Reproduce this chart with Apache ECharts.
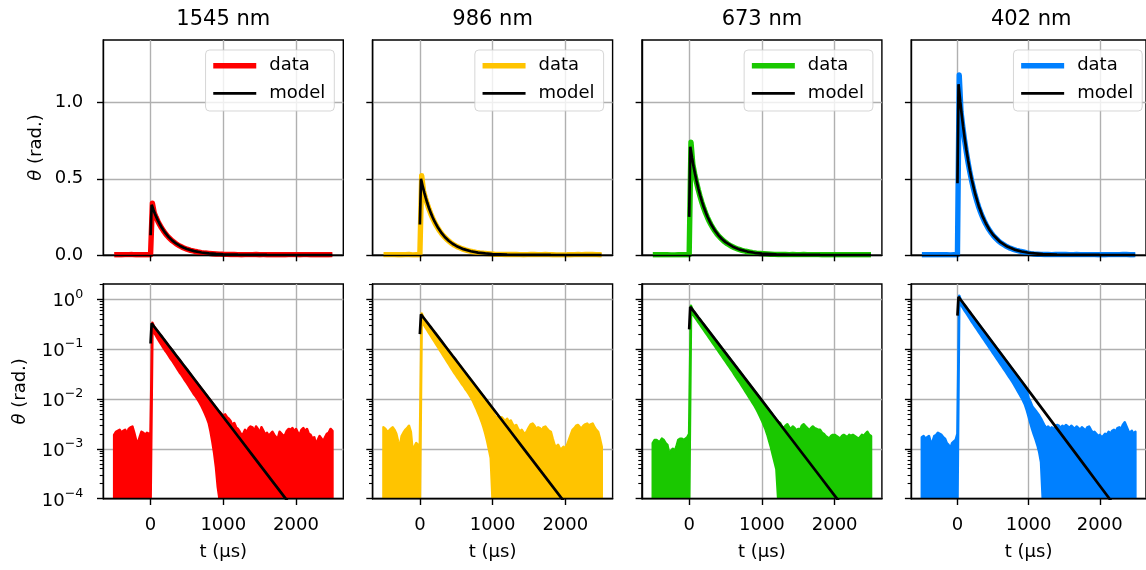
<!DOCTYPE html>
<html><head><meta charset="utf-8">
<script src="https://cdn.jsdelivr.net/npm/echarts@6/dist/echarts.min.js"></script>
<style>html,body{margin:0;padding:0;background:#fff}#c{width:1146px;height:570px}</style>
</head><body><div id="c"></div>
<script>
// ---------- data ----------
const titles = ['1545 nm', '986 nm', '673 nm', '402 nm'];
const colors = ['#ff0000', '#ffc400', '#1ac800', '#0080ff'];
const xTicks = [0, 1000, 2000];
const linTicks = [0, 0.5, 1.0];
const logTicks = [1e-4, 1e-3, 1e-2, 1e-1, 1];
const logMinorTicks = [2e-4,3e-4,4e-4,5e-4,6e-4,7e-4,8e-4,9e-4,2e-3,3e-3,4e-3,5e-3,6e-3,7e-3,8e-3,9e-3,
  2e-2,3e-2,4e-2,5e-2,6e-2,7e-2,8e-2,9e-2,0.2,0.3,0.4,0.5,0.6,0.7,0.8,0.9,2];

// measurement times (µs)
const t = [-500,-475,-450,-425,-400,-375,-350,-325,-300,-275,-250,-225,-200,-175,-150,-125,-100,-75,-50,-25,0,
  25,50,75,100,125,150,175,200,225,250,275,300,325,350,375,400,425,450,475,500,
  525,550,575,600,625,650,675,700,725,750,775,800,825,850,875,900,925,950,975,1000,
  1025,1050,1075,1100,1125,1150,1175,1200,1225,1250,1275,1300,1325,1350,1375,1400,1425,1450,1475,1500,
  1525,1550,1575,1600,1625,1650,1675,1700,1725,1750,1775,1800,1825,1850,1875,1900,1925,1950,1975,2000,
  2025,2050,2075,2100,2125,2150,2175,2200,2225,2250,2275,2300,2325,2350,2375,2400,2425,2450,2475,2500];

// upper edge of the measured signal (rad.)
const hi1545 = [0.0019,0.0022,0.0023,0.0024,0.0021,0.0023,0.0024,0.0020,0.0025,0.0027,0.0028,0.0021,0.0015,0.0013,0.0017,0.0022,0.0021,0.0019,0.0021,0.0020,0.0021,
  0.34,0.2765,0.2477,0.2220,0.1989,0.1782,0.1597,0.1430,0.1282,0.1148,0.1029,0.0922,0.0826,0.0740,0.0663,0.0594,0.0532,0.0477,0.0427,0.0383,
  0.0343,0.0307,0.0275,0.0247,0.0221,0.0198,0.0177,0.0159,0.01424,0.01276,0.01143,0.01024,0.00918,0.00822,0.00737,0.0066,0.00591,
  0.0055,0.0050,0.0046,0.0049,0.0043,0.0040,0.0036,0.0029,0.0033,0.0027,
  0.0025,0.0022,0.0019,0.0020,0.0024,0.0021,0.0026,0.0028,0.0027,0.0022,
  0.0028,0.0025,0.0020,0.0027,0.0023,0.0019,0.0021,0.0018,0.0020,0.0022,
  0.0019,0.0017,0.0016,0.0022,0.0020,0.0018,0.0019,0.0023,0.0025,0.0024,
  0.0026,0.0022,0.0025,0.0021,0.0019,0.0024,0.0026,0.0022,0.0025,0.0020,
  0.0019,0.0016,0.0017,0.0012,0.0015,0.0018,0.0016,0.0014,0.0017,0.0020,
  0.0021,0.0025,0.0023];
const hi986 = [0.0027,0.0025,0.0022,0.0023,0.0025,0.0027,0.0024,0.0020,0.0014,0.0011,0.0018,0.0021,0.0024,0.0026,0.0029,0.0022,0.0009,0.0011,0.0013,0.0012,0.0011,
  0.52,0.4190,0.3754,0.3363,0.3013,0.2700,0.2419,0.2168,0.1942,0.1740,
  0.1559,0.1397,0.1252,0.1121,0.1005,0.0900,0.0807,0.0722,0.0647,0.0580,
  0.0520,0.0466,0.0417,0.0374,0.0335,0.0300,0.0269,0.0241,0.0216,0.0193,
  0.0173,0.0155,0.0139,0.01246,0.01116,0.0100,0.00896,0.00803,0.00719,
  0.0058,0.0048,0.0041,0.0044,0.0040,0.0043,0.0039,0.0036,0.0040,0.0034,
  0.0037,0.0031,0.0028,0.0030,0.0025,0.0022,0.0024,0.0021,0.0020,0.0023,
  0.0027,0.0031,0.0032,0.0029,0.0025,0.0027,0.0026,0.0023,0.0027,0.0028,
  0.0025,0.0023,0.0022,0.0016,0.0012,0.0011,0.0012,0.0010,0.0010,0.0011,
  0.0010,0.0012,0.0015,0.0019,0.0024,0.0026,0.0029,0.0030,0.0027,0.0026,
  0.0029,0.0031,0.0032,0.0029,0.0031,0.0032,0.0027,0.0024,0.0022,0.0016,
  0.0011];
const hi673 = [0.0013,0.0015,0.0015,0.0014,0.0014,0.0016,0.0015,0.0013,0.0012,0.0008,0.0009,0.0010,0.0009,0.0011,0.0015,0.0016,0.0016,0.0015,0.0016,0.0017,0.0020,
  0.74,0.5949,0.5329,0.4776,0.4279,0.3835,0.3436,0.3078,0.2758,0.2471,
  0.2214,0.1984,0.1778,0.1592,0.1427,0.1278,0.1145,0.1026,0.0919,0.0823,
  0.0738,0.0661,0.0592,0.0531,0.0476,0.0426,0.0382,0.0342,0.0306,0.0274,
  0.0246,0.0220,0.0197,0.0177,0.0159,0.0142,0.0127,0.0114,0.0102,0.00915,
  0.0082,0.00735,0.00658,0.0059,0.00528,0.00474,0.00424,0.0038,
  0.0035,0.0033,0.0028,0.0026,0.0029,0.0031,0.0027,0.0025,0.0028,0.0026,
  0.0023,0.0025,0.0024,0.0029,0.0031,0.0028,0.0026,0.0023,0.0026,0.0028,
  0.0026,0.0025,0.0024,0.0024,0.0021,0.0020,0.0018,0.0017,0.0016,0.0018,
  0.0019,0.0019,0.0018,0.0017,0.0016,0.0018,0.0019,0.0018,0.0017,0.0019,
  0.0018,0.0019,0.0018,0.0017,0.0016,0.0017,0.0019,0.0018,0.0020,0.0022,
  0.0019,0.0018];
const hi402 = [0.0017,0.0018,0.0016,0.0017,0.0018,0.0013,0.0014,0.0018,0.0019,0.0021,0.0020,0.0019,0.0017,0.0016,0.0013,0.0012,0.0010,0.0013,0.0014,0.0015,0.0020,
  1.18,0.9384,0.8408,0.7534,0.6750,0.6048,0.5419,0.4854,0.4349,0.3897,
  0.3491,0.3128,0.2803,0.2511,0.2250,0.2016,0.1806,0.1618,0.1449,0.1299,
  0.1164,0.1043,0.0934,0.0837,0.0750,0.0672,0.0602,0.0539,0.0483,0.0433,
  0.0388,0.0348,0.0311,0.0279,0.0250,0.0224,0.0201,0.0180,0.0140,0.0105,
  0.0088,0.0072,0.0064,0.0058,0.0052,0.0046,0.0040,0.0034,
  0.0029,0.0026,0.0028,0.0025,0.0027,0.0024,0.0028,0.0030,0.0029,0.0026,
  0.0029,0.0027,0.0030,0.0028,0.0026,0.0029,0.0027,0.0025,0.0028,0.0026,
  0.0024,0.0027,0.0025,0.0023,0.0027,0.0028,0.0024,0.0021,0.0022,0.0020,
  0.0018,0.0019,0.0017,0.0018,0.0020,0.0019,0.0022,0.0020,0.0023,0.0024,
  0.0022,0.0026,0.0027,0.0025,0.0030,0.0034,0.0028,0.0023,0.0021,0.0023,
  0.0020,0.0022];

// lower edge of the measured signal, from t = 25 µs on; after the list ends it lies below the axis
const loStartT = 25;
const lo1545 = [0.251,0.2148,0.1879,0.1608,0.1408,0.1233,0.1080,0.0945,0.0847,0.0741,
  0.0649,0.0581,0.0509,0.0446,0.0390,0.0342,0.0306,0.0268,0.0235,0.0210,
  0.0184,0.0161,0.0141,0.01236,0.01108,0.0097,0.00849,0.00726,0.00607,0.00508,
  0.00415,0.00331,0.00225,0.0014,0.000827,0.000426,0.000171,0.0000537];
const lo986 = [0.380,0.3252,0.2782,0.2436,0.2134,0.1868,0.1636,0.1432,0.1254,0.1098,
  0.0961,0.0842,0.0737,0.0645,0.0565,0.0495,0.0433,0.0379,0.0332,0.0297,
  0.0260,0.0233,0.0204,0.0183,0.0160,0.01436,0.01258,0.0110,0.00942,0.00787,
  0.00658,0.00538,0.0044,0.00351,0.00274,0.00204,0.00145,0.000988,0.000656];
const lo673 = [0.578,0.5064,0.4485,0.3973,0.3519,0.3117,0.2761,0.2444,0.2165,0.1918,
  0.1699,0.1505,0.1333,0.1180,0.1045,0.0926,0.0820,0.0726,0.0643,0.0570,
  0.0505,0.0447,0.0396,0.0351,0.0307,0.0269,0.0238,0.0211,0.0185,0.0162,
  0.01416,0.01239,0.01085,0.0095,0.00832,0.00729,0.00623,0.00533,0.00446,0.00373,
  0.00305,0.00249,0.00194,0.00145,0.00108,0.000768,0.000547,0.000389];
const lo402 = [0.8915,0.7806,0.6834,0.5984,0.530,0.4694,0.4111,0.3598,0.3187,0.2823,
  0.250,0.2214,0.1962,0.1738,0.1539,0.1363,0.1207,0.1069,0.0947,0.0839,
  0.0743,0.0658,0.0583,0.0516,0.0457,0.0405,0.0359,0.0318,0.0281,0.0249,
  0.0218,0.0191,0.01653,0.01431,0.01239,0.01072,0.00918,0.00767,0.00599,0.00446,
  0.00333,0.00248,0.00193,0.00154,0.00118,0.000858,0.000544];

// model curve
const modelT = [0,15,40,60,80,100,125,150,175,200,250,300,350,400,450,500,600,700,800,900,1000,1200,1400,1600,1800,2000,2200,2400,2500];
const model1545 = [0.13,0.330,0.2957,0.2708,0.2480,0.2272,0.2035,0.1824,0.1634,0.1463,0.1174,0.0943,0.0757,0.0608,0.0488,0.0392,0.02524,0.01627,0.01048,0.006755,0.004353,0.001807,0.0007504,0.0003117,0.0001294,0.0000537,0.0000223,0.00000927,0.00000597];
const model986 = [0.20,0.500,0.448,0.4103,0.3758,0.3442,0.3083,0.2763,0.2476,0.2217,0.1780,0.1429,0.1147,0.0921,0.0739,0.0594,0.03825,0.02465,0.01588,0.01024,0.006595,0.002739,0.001137,0.0004723,0.0001961,0.0000814,0.0000338,0.000014,0.00000905];
const model673 = [0.25,0.710,0.636,0.5826,0.5336,0.4888,0.4378,0.3923,0.3515,0.3148,0.2527,0.2029,0.1629,0.1308,0.1049,0.0843,0.05431,0.0350,0.02255,0.01453,0.009365,0.003889,0.001615,0.0006706,0.0002785,0.0001156,0.000048,0.0000199,0.0000129];
const model402 = [0.47,1.120,1.004,0.919,0.8417,0.771,0.6906,0.6189,0.5545,0.4966,0.3986,0.3201,0.2569,0.2063,0.1655,0.1329,0.08567,0.0552,0.03557,0.02293,0.01477,0.006134,0.002547,0.001058,0.0004393,0.0001823,0.0000757,0.0000314,0.0000203];

// ---------- chart ----------
const FONT = 'DejaVu Sans';
const gridColor = '#b0b0b0';
const his = [hi1545, hi986, hi673, hi402];
const los = [lo1545, lo986, lo673, lo402];
const models = [model1545, model986, model673, model402];
const xMin = -650, xMax = 2650;
const linMax = 1.41, logMin = 1e-4, logMax = 2.03;
const belowAxis = 1e-6;

const colLeft = [103.3, 372.6, 641.9, 911.2], W = 240;
const rowTop = [40, 284], rowH = [215, 214.7];
const loStartIdx = t.indexOf(loStartT);

function loAt(lo, i) {
  const k = i - loStartIdx;
  return (k >= 0 && k < lo.length) ? lo[k] : null;
}
function bandRenderer(hi, lo, color) {
  return function (params, api) {
    if (params.dataIndex !== 0) return null;
    const cs = params.coordSys;
    const bottom = cs.y + cs.height;
    const pts = [];
    for (let i = 0; i < t.length; i++) pts.push(api.coord([t[i], hi[i]]));
    for (let i = t.length - 1; i >= 0; i--) {
      const v = loAt(lo, i);
      const p = api.coord([t[i], v == null ? belowAxis : v]);
      pts.push([p[0], Math.min(p[1], bottom + 1)]);
    }
    return { type: 'polygon', shape: { points: pts },
      style: { fill: color, stroke: color, lineWidth: 2.6, lineJoin: 'round' } };
  };
}
const tickStyle = { color: '#000', width: 1.4 };
const labelStyle = { fontSize: 18, color: '#000', fontFamily: FONT };

const grid = [], xAxis = [], yAxis = [], series = [], legend = [], title = [];
for (let r = 0; r < 2; r++) {
  for (let c = 0; c < 4; c++) {
    const g = grid.length;
    grid.push({ left: colLeft[c], top: rowTop[r], width: W, height: rowH[r], show: true,
      borderColor: '#000', borderWidth: 1.4, backgroundColor: 'transparent' });
    // x gridlines (below data)
    xAxis.push({ gridIndex: g, type: 'value', min: xMin, max: xMax, position: 'top', z: 0,
      axisLine: { show: false, onZero: false }, axisTick: { show: false, customValues: xTicks },
      axisLabel: { show: false, customValues: xTicks },
      splitLine: { show: true, lineStyle: { color: gridColor, width: 1.4 } } });
    // x main axis (above data)
    const xi = xAxis.length;
    xAxis.push({ gridIndex: g, type: 'value', min: xMin, max: xMax, position: 'bottom', z: 10,
      axisLine: { show: true, onZero: false, lineStyle: tickStyle },
      axisTick: { show: true, length: 6.3, lineStyle: tickStyle, customValues: xTicks },
      axisLabel: { show: r === 1, customValues: xTicks, margin: 18, formatter: v => String(v), ...labelStyle },
      splitLine: { show: false },
      name: r === 1 ? 't (µs)' : '', nameLocation: 'middle', nameGap: 45,
      nameTextStyle: { ...labelStyle } });
    const yi = yAxis.length;
    if (r === 0) {
      yAxis.push({ gridIndex: g, type: 'value', min: 0, max: linMax, position: 'left', z: 0,
        axisLine: { show: true, onZero: false, lineStyle: tickStyle },
        axisTick: { show: true, length: 6.3, lineStyle: tickStyle, customValues: linTicks },
        axisLabel: { show: c === 0, customValues: linTicks, margin: 20, formatter: v => v.toFixed(1), ...labelStyle },
        splitLine: { show: true, lineStyle: { color: gridColor, width: 1.4 } },
        name: c === 0 ? '{i|θ} (rad.)' : '', nameLocation: 'middle', nameRotate: 90, nameGap: 58,
        nameTextStyle: { ...labelStyle, rich: { i: { fontStyle: 'italic', fontSize: 18, fontFamily: FONT, color: '#000' } } } });
    } else {
      yAxis.push({ gridIndex: g, type: 'log', logBase: 10, min: logMin, max: logMax, position: 'left', z: 0,
        axisLine: { show: true, onZero: false, lineStyle: tickStyle },
        axisTick: { show: true, length: 6.3, lineStyle: tickStyle, customValues: logTicks },
        axisLabel: { show: c === 0, customValues: logTicks, margin: 20,
          formatter: v => { const e = Math.round(Math.log10(v)); return '{b|10}{s|' + (e < 0 ? '\u2212' + (-e) : e) + '}'; },
          rich: { b: { fontSize: 18, fontFamily: FONT, color: '#000', verticalAlign: 'bottom' },
                  s: { fontSize: 12.6, fontFamily: FONT, color: '#000', verticalAlign: 'top', padding: [0, 0, 10, 0] } } },
        splitLine: { show: true, lineStyle: { color: gridColor, width: 1.4 } },
        name: c === 0 ? '{i|θ} (rad.)' : '', nameLocation: 'middle', nameRotate: 90, nameGap: 74,
        nameTextStyle: { ...labelStyle, rich: { i: { fontStyle: 'italic', fontSize: 18, fontFamily: FONT, color: '#000' } } } });
      yAxis.push({ gridIndex: g, type: 'log', logBase: 10, min: logMin, max: logMax, position: 'left', z: 0,
        axisLine: { show: false, onZero: false },
        axisTick: { show: true, length: 3.6, lineStyle: { color: '#000', width: 1.1 }, customValues: logMinorTicks },
        axisLabel: { show: false }, splitLine: { show: false } });
    }
    const hi = his[c], lo = los[c], color = colors[c], model = models[c];
    if (r === 0) {
      series.push({ type: 'line', name: 'data ' + titles[c], xAxisIndex: xi, yAxisIndex: yi,
        data: t.map((v, i) => [v, hi[i]]), symbol: 'none', showSymbol: false, color: color,
        lineStyle: { width: 5.4, color: color, join: 'round' }, z: 2, clip: true });
      series.push({ type: 'line', name: 'model ' + titles[c], xAxisIndex: xi, yAxisIndex: yi,
        data: modelT.map((v, i) => [v, model[i]]), symbol: 'none', showSymbol: false, color: '#000',
        lineStyle: { width: 2.7, color: '#000' }, z: 3, clip: true });
      legend.push({ orient: 'vertical', right: 1146 - (colLeft[c] + W - 9), top: 50,
        data: [{ name: 'data ' + titles[c], lineStyle: { width: 5.4 } },
               { name: 'model ' + titles[c], lineStyle: { width: 2.7 } }],
        formatter: n => n.split(' ')[0], selectedMode: false,
        itemWidth: 43, itemHeight: 14, itemGap: 9.6, padding: [6.7, 9, 8.7, 5],
        itemStyle: { opacity: 0 },
        backgroundColor: 'rgba(255,255,255,0.8)', borderColor: 'rgba(204,204,204,0.8)', borderWidth: 1, borderRadius: 4,
        textStyle: { fontSize: 18, color: '#000', fontFamily: FONT, lineHeight: 18, padding: [0, 0, 0, 8] } });
      title.push({ text: titles[c], left: colLeft[c] + W / 2, top: 9, textAlign: 'center', padding: 0,
        textStyle: { fontSize: 21, fontWeight: 'normal', color: '#000', fontFamily: FONT } });
    } else {
      series.push({ type: 'custom', name: 'band ' + titles[c], xAxisIndex: xi, yAxisIndex: yi,
        data: [[0, 1]], renderItem: bandRenderer(hi, lo, color), clip: true, z: 2, silent: true });
      series.push({ type: 'line', name: 'model log ' + titles[c], xAxisIndex: xi, yAxisIndex: yi,
        data: modelT.map((v, i) => [v, model[i]]), symbol: 'none', showSymbol: false, color: '#000',
        lineStyle: { width: 2.7, color: '#000' }, z: 3, clip: true });
    }
  }
}

const chart = echarts.init(document.getElementById('c'), null, { renderer: 'canvas' });
chart.setOption({ animation: false, backgroundColor: '#fff', textStyle: { fontFamily: FONT },
  title, grid, xAxis, yAxis, series, legend });
</script></body></html>
